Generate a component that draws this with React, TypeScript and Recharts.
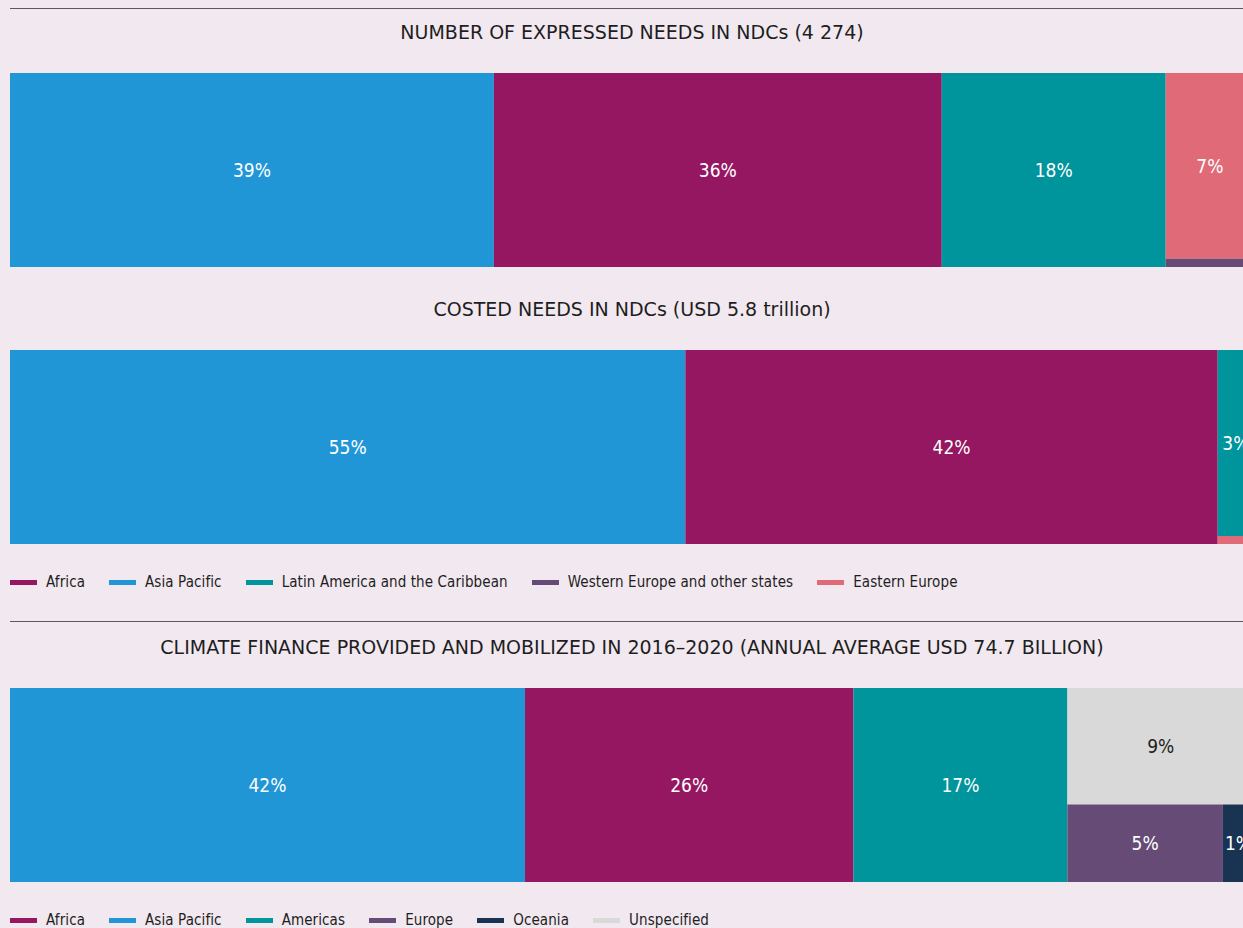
import React from "react";
import { ComposedChart, XAxis, YAxis, ReferenceArea } from "recharts";

// --- Colours per region ---
const regionColors: Record<string, string> = {
  Africa: "#951762",
  "Asia Pacific": "#2196d6",
  "Latin America and the Caribbean": "#00949c",
  Americas: "#00949c",
  "Western Europe and other states": "#654b75",
  Europe: "#654b75",
  "Eastern Europe": "#e06a77",
  Oceania: "#183452",
  Unspecified: "#d9d9d9",
};

// --- Chart 1: number of expressed needs in NDCs ---
const needsNames = [
  "Asia Pacific",
  "Africa",
  "Latin America and the Caribbean",
  "Eastern Europe",
  "Western Europe and other states",
];
const needsValues = [38.9, 36.0, 18.0, 6.8, 0.3];
const needsLabels = ["39%", "36%", "18%", "7%", ""];
// columns -> rows -> regions
const needsColumns = [
  [["Asia Pacific"]],
  [["Africa"]],
  [["Latin America and the Caribbean"]],
  [["Eastern Europe"], ["Western Europe and other states"]],
];

// --- Chart 2: costed needs in NDCs ---
const costedNames = [
  "Asia Pacific",
  "Africa",
  "Latin America and the Caribbean",
  "Eastern Europe",
];
const costedValues = [54.3, 42.8, 2.8, 0.12];
const costedLabels = ["55%", "42%", "3%", ""];
const costedColumns = [
  [["Asia Pacific"]],
  [["Africa"]],
  [["Latin America and the Caribbean"], ["Eastern Europe"]],
];

// --- Chart 3: climate finance provided and mobilized ---
const financeNames = [
  "Asia Pacific",
  "Africa",
  "Americas",
  "Unspecified",
  "Europe",
  "Oceania",
];
const financeValues = [41.4, 26.4, 17.2, 9.0, 5.0, 1.0];
const financeLabels = ["42%", "26%", "17%", "9%", "5%", "1%"];
const financeColumns = [
  [["Asia Pacific"]],
  [["Africa"]],
  [["Americas"]],
  [["Unspecified"], ["Europe", "Oceania"]],
];

// --- Legends ---
const needsLegend = [
  "Africa",
  "Asia Pacific",
  "Latin America and the Caribbean",
  "Western Europe and other states",
  "Eastern Europe",
];
const financeLegend = [
  "Africa",
  "Asia Pacific",
  "Americas",
  "Europe",
  "Oceania",
  "Unspecified",
];

const FONT = "'DejaVu Sans Condensed', 'Noto Sans', sans-serif";
const TITLE_FONT = "'DejaVu Sans', 'Noto Sans', sans-serif";
const BG = "#f2e8f0";
const BAR_W = 1244;
const BAR_H = 194;

type Cell = { name: string; label: string; x1: number; x2: number; y1: number; y2: number };

// slice-and-dice layout in data units (x: 0-total, y: 0-1)
const layoutCells = (names: string[], values: number[], labels: string[], columns: string[][][]) => {
  const val = (n: string) => values[names.indexOf(n)];
  const cells: Cell[] = [];
  let x = 0;
  columns.forEach((rows) => {
    const colSum = rows.flat().reduce((s, n) => s + val(n), 0);
    let y = 0;
    rows.forEach((row) => {
      const rowSum = row.reduce((s, n) => s + val(n), 0);
      const h = rowSum / colSum;
      let rx = x;
      row.forEach((n) => {
        const w = (val(n) / rowSum) * colSum;
        cells.push({ name: n, label: labels[names.indexOf(n)], x1: rx, x2: rx + w, y1: y, y2: y + h });
        rx += w;
      });
      y += h;
    });
    x += colSum;
  });
  return cells;
};

const TileBar = ({
  names,
  values,
  labels,
  columns,
}: {
  names: string[];
  values: number[];
  labels: string[];
  columns: string[][][];
}) => {
  const cells = layoutCells(names, values, labels, columns);
  const total = values.reduce((s, v) => s + v, 0);
  return (
    <ComposedChart width={BAR_W} height={BAR_H} margin={{ top: 0, right: 0, bottom: 0, left: 0 }} data={[{ x: 0, y: 0 }]}>
      <XAxis type="number" dataKey="x" domain={[0, total]} hide allowDataOverflow />
      <YAxis type="number" dataKey="y" domain={[0, 1]} hide reversed allowDataOverflow />
      {cells.map((c) => (
        <ReferenceArea
          key={c.name}
          x1={c.x1}
          x2={c.x2}
          y1={c.y1}
          y2={c.y2}
          fill={regionColors[c.name]}
          fillOpacity={1}
          stroke="none"
          ifOverflow="visible"
          label={
            c.label
              ? {
                  value: c.label,
                  position: "center",
                  fill: c.name === "Unspecified" ? "#1e1e1e" : "#ffffff",
                  fontSize: 19,
                  fontFamily: FONT,
                }
              : undefined
          }
        />
      ))}
    </ComposedChart>
  );
};

const Title = ({ text, top }: { text: string; top: number }) => (
  <div
    style={{
      position: "absolute",
      left: 10,
      top: top - 13,
      width: BAR_W,
      height: 26,
      lineHeight: "26px",
      textAlign: "center",
      fontSize: 19,
      fontFamily: TITLE_FONT,
      color: "#1e1e1e",
      whiteSpace: "nowrap",
    }}
  >
    {text}
  </div>
);

const LegendRow = ({ items, top }: { items: string[]; top: number }) => (
  <div
    style={{
      position: "absolute",
      left: 10,
      top: top - 10,
      height: 20,
      display: "flex",
      alignItems: "center",
      fontSize: 15,
      letterSpacing: 0.1,
      color: "#1e1e1e",
      whiteSpace: "nowrap",
    }}
  >
    {items.map((n) => (
      <div key={n} style={{ display: "flex", alignItems: "center", marginRight: 24 }}>
        <span style={{ width: 27, height: 5, background: regionColors[n], marginRight: 9 }} />
        <span>{n}</span>
      </div>
    ))}
  </div>
);

const Rule = ({ top }: { top: number }) => (
  <div style={{ position: "absolute", left: 10, top, right: 0, height: 1, background: "#5a5a5a" }} />
);

export default function App() {
  return (
    <div
      style={{
        position: "fixed",
        inset: 0,
        background: BG,
        overflow: "hidden",
        fontFamily: FONT,
      }}
    >
      <Rule top={8} />
      <Title text="NUMBER OF EXPRESSED NEEDS IN NDCs (4 274)" top={32} />
      <div style={{ position: "absolute", left: 10, top: 73 }}>
        <TileBar names={needsNames} values={needsValues} labels={needsLabels} columns={needsColumns} />
      </div>
      <Title text="COSTED NEEDS IN NDCs (USD 5.8 trillion)" top={309} />
      <div style={{ position: "absolute", left: 10, top: 350 }}>
        <TileBar names={costedNames} values={costedValues} labels={costedLabels} columns={costedColumns} />
      </div>
      <LegendRow items={needsLegend} top={582} />
      <Rule top={621} />
      <Title
        text="CLIMATE FINANCE PROVIDED AND MOBILIZED IN 2016–2020 (ANNUAL AVERAGE USD 74.7 BILLION)"
        top={647}
      />
      <div style={{ position: "absolute", left: 10, top: 688 }}>
        <TileBar names={financeNames} values={financeValues} labels={financeLabels} columns={financeColumns} />
      </div>
      <LegendRow items={financeLegend} top={920} />
    </div>
  );
}
